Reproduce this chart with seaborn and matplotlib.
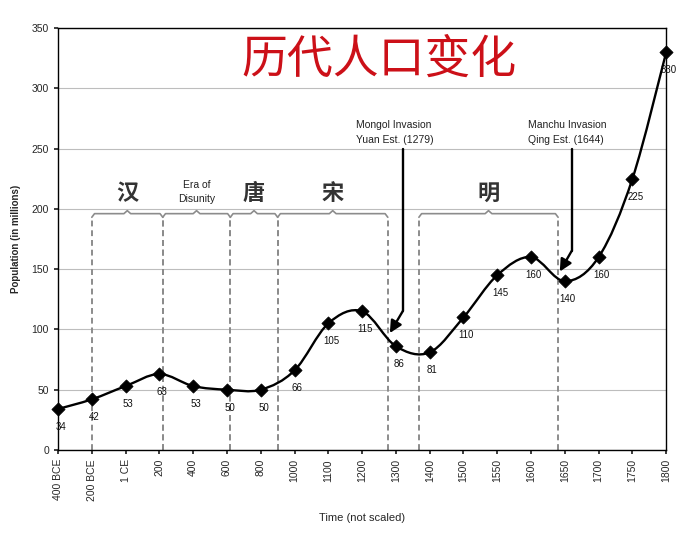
import numpy as np
import pandas as pd
import matplotlib.pyplot as plt
from matplotlib.path import Path
from matplotlib.patches import PathPatch
import seaborn as sns

sns.set_theme(style="white")
plt.rcParams['font.family'] = ['Liberation Sans', 'Noto Sans CJK SC', 'DejaVu Sans']

# data
periods = ['400 BCE', '200 BCE', '1 CE', '200', '400', '600', '800', '1000', '1100',
           '1200', '1300', '1400', '1500', '1550', '1600', '1650', '1700', '1750', '1800']
population = [34, 42, 53, 63, 53, 50, 50, 66, 105, 115, 86, 81, 110, 145, 160, 140, 160, 225, 330]

# dynasty spans (in category index units)
eras = ['汉', 'Era of\nDisunity', '唐', '宋', '明']
era_start = [1.0, 3.1, 5.1, 6.5, 10.68]
era_end = [3.1, 5.1, 6.5, 9.76, 14.8]

# events
events = ['Mongol Invasion\nYuan Est. (1279)', 'Manchu Invasion\nQing Est. (1644)']
event_text_x = [8.82, 13.9]
event_line_x = [10.2, 15.2]
event_bend_y = [115, 165]
event_head = [(9.82, 97), (14.85, 148)]

df = pd.DataFrame({'period': periods, 'population': population})
xs = np.arange(len(periods))

fig = plt.figure(figsize=(6.94, 5.38), dpi=100)
ax = fig.add_axes([0.0836, 0.1636, 0.8764, 0.7844])

# smoothed line (Excel style) through the data points
pts = np.column_stack([xs, population]).astype(float)
verts = [pts[0]]
codes = [Path.MOVETO]
for i in range(len(pts) - 1):
    p0 = pts[i - 1] if i > 0 else pts[i]
    p1, p2 = pts[i], pts[i + 1]
    p3 = pts[i + 2] if i + 2 < len(pts) else pts[i + 1]
    verts += [p1 + (p2 - p0) / 6, p2 - (p3 - p1) / 6, p2]
    codes += [Path.CURVE4] * 3
ax.add_patch(PathPatch(Path(verts, codes), fill=False, color='black', lw=1.7, zorder=4))

sns.scatterplot(data=df, x='period', y='population', marker='D', s=45, color='black',
                edgecolor='black', zorder=5, ax=ax, legend=False, clip_on=False)

for i, v in enumerate(population):
    ax.annotate(str(v), (i, v), xytext=(2, -13), textcoords='offset points',
                ha='center', va='center', fontsize=7, color='#111')

# era braces
gray = '#8c8c8c'
for name, a, b in zip(eras, era_start, era_end):
    c = (a + b) / 2
    ax.plot([a, a], [0, 193], color=gray, lw=1.4, ls=(0, (3, 2)), zorder=2)
    ax.plot([b, b], [0, 193], color=gray, lw=1.4, ls=(0, (3, 2)), zorder=2)
    ax.plot([a, a + 0.08, c - 0.1, c, c + 0.1, b - 0.08, b],
            [193, 196, 196, 198.5, 196, 196, 193], color=gray, lw=1.2, zorder=2)
    if '\n' in name:
        ax.text(c, 214, name, ha='center', va='center', fontsize=7.5, color='#222',
                linespacing=1.45)
    else:
        ax.text(c, 213, name, ha='center', va='center', fontsize=16, fontweight='bold',
                color='#333', family=['Noto Sans CJK SC'])

# event arrows
for name, tx, lx, by, head in zip(events, event_text_x, event_line_x, event_bend_y, event_head):
    ax.text(tx, 263, name, ha='left', va='center', fontsize=7.5, color='#222', linespacing=1.65)
    ax.plot([lx, lx], [250, by], color='black', lw=1.7, zorder=4)
    ax.annotate('', xy=head, xytext=(lx, by),
                arrowprops=dict(arrowstyle='-|>,head_length=0.6,head_width=0.3',
                                color='black', lw=1.7, shrinkA=0, shrinkB=0), zorder=4)

ax.text(9.5, 324, '历代人口变化', ha='center', va='center', fontsize=33, color='#cc1018',
        family=['Noto Sans CJK SC'])

ax.set_xlim(0, len(periods) - 1)
ax.set_ylim(0, 350)
ax.set_yticks(range(0, 351, 50))
ax.set_xticks(xs)
ax.set_xticklabels(periods, rotation=90, fontsize=7.5)
ax.tick_params(axis='y', labelsize=7.5, length=3, direction='out', left=True)
ax.tick_params(axis='x', length=3, direction='out', bottom=True)
ax.yaxis.grid(True, color='#bdbdbd', lw=0.8)
ax.set_axisbelow(True)
for s in ax.spines.values():
    s.set_color('black')
    s.set_linewidth(1)

ax.set_ylabel('Population (in millions)', fontsize=7, fontweight='bold', labelpad=8)
ax.set_xlabel('Time (not scaled)', fontsize=8, labelpad=9)

fig.savefig('out.png', dpi=100)
